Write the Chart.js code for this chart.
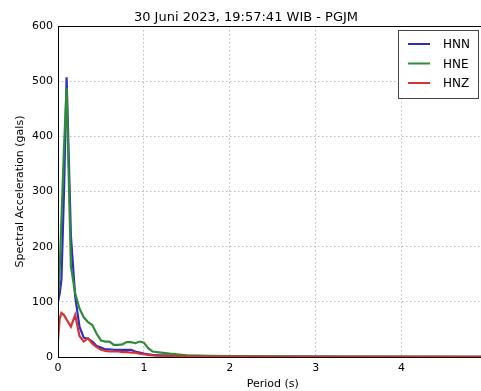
<!DOCTYPE html>
<html>
<head>
<meta charset="utf-8">
<script src="https://cdn.jsdelivr.net/npm/chart.js@4.4.0/dist/chart.umd.min.js"></script>
<style>
  html, body { margin: 0; padding: 0; background: #fff; overflow: hidden; }
  #wrap { width: 496px; height: 391px; }
</style>
</head>
<body>
<div id="wrap"><canvas id="grafico"></canvas></div>
<script>
// periodo (s)
const periode = [0, 0.02, 0.04, 0.07, 0.1, 0.15, 0.2, 0.25, 0.3, 0.35, 0.4, 0.45, 0.5, 0.55, 0.6, 0.65, 0.7, 0.75, 0.8, 0.85, 0.9, 0.95, 1.0, 1.05, 1.1, 1.2, 1.3, 1.5, 1.75, 2, 2.5, 3, 4, 5];

// percepatan spektral (gals)
const hnn = [100, 115, 140, 300, 507, 220, 110, 55, 35, 33, 28, 20, 17, 14, 14, 13, 13, 13, 13, 13, 10, 8, 6, 5, 4, 3, 3, 2, 1.5, 1, 0.7, 0.5, 0.3, 0.2];
const hne = [105, 160, 250, 380, 488, 165, 115, 88, 72, 63, 58, 42, 30, 28, 28, 22, 22, 23, 27, 27, 25, 28, 26, 16, 10, 8, 6, 3, 2, 1.5, 1, 0.7, 0.5, 0.3];
const hnz = [30, 70, 80, 76, 68, 55, 76, 38, 28, 34, 24, 18, 13, 11, 10, 10, 10, 9, 9, 8, 8, 6, 5, 4, 3, 2, 1.5, 1, 0.8, 0.6, 0.4, 0.3, 0.2, 0.1];

const xTicks = [0, 1, 2, 3, 4, 5];
const yTicks = [0, 100, 200, 300, 400, 500, 600];

const judul = "30 Juni 2023, 19:57:41 WIB - PGJM";
const fonte = "'DejaVu Sans', sans-serif";

const pontos = (ys) => periode.map((p, i) => ({ x: p, y: ys[i] }));

// borda e legenda no estilo matplotlib
const molduraLegenda = {
  id: "molduraLegenda",
  afterDatasetsDraw(chart) {
    const { ctx, chartArea: a } = chart;
    ctx.save();
    ctx.strokeStyle = "#000";
    ctx.lineWidth = 1;
    ctx.strokeRect(Math.round(a.left) + 0.5, Math.round(a.top) + 0.5, a.right - a.left, a.bottom - a.top);

    // caixa da legenda
    const bx = 398.5, by = 30.5, bw = 80, bh = 68;
    ctx.fillStyle = "#fff";
    ctx.fillRect(bx, by, bw, bh);
    ctx.strokeStyle = "#444";
    ctx.strokeRect(bx, by, bw, bh);
    ctx.font = "12px " + fonte;
    ctx.textBaseline = "middle";
    chart.data.datasets.forEach((ds, i) => {
      const y = 44 + i * 19.5;
      ctx.strokeStyle = ds.borderColor;
      ctx.lineWidth = 2;
      ctx.beginPath();
      ctx.moveTo(408, y);
      ctx.lineTo(430, y);
      ctx.stroke();
      ctx.fillStyle = "#000";
      ctx.fillText(ds.label, 443, y + 1);
    });
    ctx.restore();
  }
};

new Chart(document.getElementById("grafico"), {
  type: "line",
  data: {
    datasets: [
      { label: "HNN", data: pontos(hnn), borderColor: "#2f2fbf", order: 2 },
      { label: "HNE", data: pontos(hne), borderColor: "#2e8b3a", order: 1 },
      { label: "HNZ", data: pontos(hnz), borderColor: "#d83232", order: 0 }
    ]
  },
  options: {
    responsive: true,
    maintainAspectRatio: false,
    animation: false,
    layout: { padding: { left: 0, right: 4, top: 0, bottom: 0 } },
    elements: {
      line: { borderWidth: 2.2, tension: 0, fill: false },
      point: { radius: 0 }
    },
    plugins: {
      legend: { display: false },
      tooltip: { enabled: false },
      title: {
        display: true,
        text: judul,
        color: "#000",
        font: { family: fonte, size: 13, weight: "normal" },
        padding: { top: 10, bottom: 0.4 }
      }
    },
    scales: {
      x: {
        type: "linear",
        min: 0,
        max: 5,
        afterBuildTicks: (s) => { s.ticks = xTicks.map(v => ({ value: v })); },
        afterFit: (s) => { s.height = 34; },
        ticks: { color: "#000", padding: 5, maxRotation: 0, font: { family: fonte, size: 11 } },
        grid: { color: "#bbb", lineWidth: 1, drawTicks: false },
        border: { display: false, dash: [1.5, 2.5] },
        title: { display: true, text: "Period (s)", color: "#000", font: { family: fonte, size: 11 }, padding: { top: 0, bottom: 0 } }
      },
      y: {
        min: 0,
        max: 600,
        afterBuildTicks: (s) => { s.ticks = yTicks.map(v => ({ value: v })); },
        afterFit: (s) => { s.width = 58; },
        ticks: { color: "#000", padding: 5, font: { family: fonte, size: 11 } },
        grid: { color: "#bbb", lineWidth: 1, drawTicks: false },
        border: { display: false, dash: [1.5, 2.5] },
        title: { display: true, text: "Spectral Acceleration (gals)", color: "#000", font: { family: fonte, size: 11 }, padding: { top: 14, bottom: 0 } }
      }
    }
  },
  plugins: [molduraLegenda]
});
</script>
</body>
</html>
